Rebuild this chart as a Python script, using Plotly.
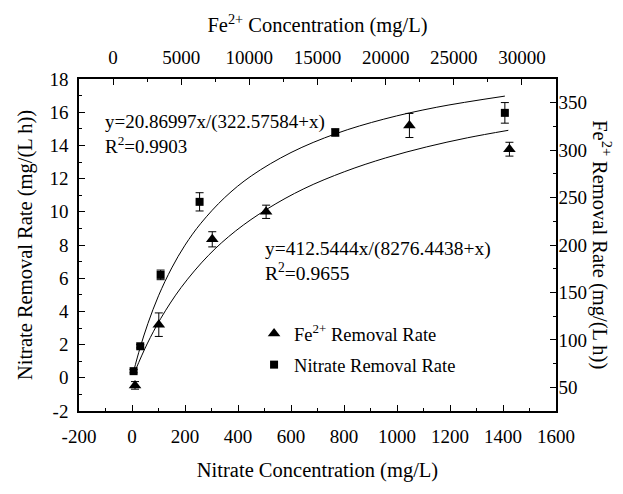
import plotly.graph_objects as go

# ---- data ----
# Nitrate removal rate (left axis) vs nitrate concentration (bottom axis)
nitrate_conc = [6, 31, 108, 255, 767, 1407]
nitrate_rate = [0.40, 1.9, 6.2, 10.6, 14.78, 15.96]
nitrate_err = [0.1, 0.1, 0.29, 0.55, 0.22, 0.62]

# Fe2+ removal rate (right axis) vs Fe2+ concentration (top axis)
fe_conc = [1611, 3356, 7278, 11230, 21745, 29083]
fe_rate = [52, 116, 206, 235, 326, 301]
fe_err = [4, 12.4, 8, 7, 12.7, 7.3]

# Fitted curves (sampled along the drawn lines)
nit_fit_x = [6, 30, 60, 100, 150, 200, 260, 350, 450, 600, 770, 950, 1150, 1407]
nit_fit_y = [0.38, 1.78, 3.27, 4.94, 6.62, 7.99, 9.31, 10.86, 12.16, 13.57, 14.71, 15.58, 16.30, 16.97]
fe_fit_x = [1611, 2500, 3500, 5000, 7000, 9000, 11300, 14000, 17000, 20000, 23000, 26000, 29000]
fe_fit_y = [67.1, 95.7, 122.6, 155.3, 189.1, 214.9, 237.9, 259.3, 277.4, 291.8, 303.4, 313.0, 320.9]

# Tick labels
bottom_ticks = [-200, 0, 200, 400, 600, 800, 1000, 1200, 1400, 1600]
bottom_labels = ["-200", "0", "200", "400", "600", "800", "1000", "1200", "1400", "1600"]
top_ticks = [0, 5000, 10000, 15000, 20000, 25000, 30000]
top_labels = ["0", "5000", "10000", "15000", "20000", "25000", "30000"]
left_ticks = [-2, 0, 2, 4, 6, 8, 10, 12, 14, 16, 18]
left_labels = ["-2", "0", "2", "4", "6", "8", "10", "12", "14", "16", "18"]
right_ticks = [50, 100, 150, 200, 250, 300, 350]
right_labels = ["50", "100", "150", "200", "250", "300", "350"]

eq1 = "y=20.86997x/(322.57584+x)<br>R<sup>2</sup>=0.9903"
eq2 = "y=412.5444x/(8276.4438+x)<br>R<sup>2</sup>=0.9655"
right_title = "Fe<sup>2+</sup> Removal Rate (mg/(L h))"

FONT = "Liberation Serif"
TICK = dict(family=FONT, size=19, color="black")
TITLE = dict(family=FONT, size=20.5, color="black")

fig = go.Figure()
fig.add_trace(go.Scatter(x=nit_fit_x, y=nit_fit_y, mode="lines", line=dict(color="black", width=1, shape="spline"),
                         showlegend=False, hoverinfo="skip"))
fig.add_trace(go.Scatter(x=fe_fit_x, y=fe_fit_y, mode="lines", line=dict(color="black", width=1, shape="spline"),
                         xaxis="x2", yaxis="y2", showlegend=False, hoverinfo="skip"))
fig.add_trace(go.Scatter(x=fe_conc, y=fe_rate, mode="markers", name="Fe<sup>2+</sup> Removal Rate",
                         legendgroup="fe",
                         marker=dict(symbol="triangle-up", size=11, color="black"),
                         error_y=dict(type="data", array=fe_err, color="black", thickness=1, width=4),
                         xaxis="x2", yaxis="y2"))
fig.add_trace(go.Scatter(x=nitrate_conc, y=nitrate_rate, mode="markers", name="Nitrate Removal Rate",
                         legendgroup="no3",
                         marker=dict(symbol="square", size=8, color="black"),
                         error_y=dict(type="data", array=nitrate_err, color="black", thickness=1, width=4)))

axis_common = dict(showline=True, linecolor="black", linewidth=1.5, ticks="inside", ticklen=6,
                   tickcolor="black", showgrid=False, zeroline=False, automargin=False,
                   tickfont=TICK)

fig.update_layout(
    width=623, height=494,
    margin=dict(l=71, r=75, t=71, b=91),
    paper_bgcolor="white", plot_bgcolor="white",
    font=dict(family=FONT, color="black"),
    xaxis=dict(range=[-200, 1600], tickmode="array", tickvals=bottom_ticks, ticktext=bottom_labels,
               minor=dict(dtick=100, ticks="inside", ticklen=3, tickcolor="black"),
               title=dict(text="Nitrate Concentration (mg/L)", font=TITLE, standoff=17),
               ticklabelstandoff=7, **axis_common),
    xaxis2=dict(range=[-2500, 32500], tickmode="array", tickvals=top_ticks, ticktext=top_labels,
                overlaying="x", side="top", anchor="y",
                minor=dict(dtick=2500, tick0=0, ticks="inside", ticklen=3, tickcolor="black"),
                title=dict(text="Fe<sup>2+</sup> Concentration (mg/L)", font=TITLE, standoff=8),
                ticklabelstandoff=6, **axis_common),
    yaxis=dict(range=[-2, 18], tickmode="array", tickvals=left_ticks, ticktext=left_labels,
               minor=dict(dtick=1, tick0=0, ticks="inside", ticklen=3, tickcolor="black"),
               title=dict(text="Nitrate Removal Rate (mg/(L h))", font=TITLE, standoff=11),
               ticklabelstandoff=5, **axis_common),
    yaxis2=dict(range=[25, 375], tickmode="array", tickvals=right_ticks, ticktext=right_labels,
                overlaying="y", side="right", anchor="x",
                minor=dict(dtick=25, tick0=0, ticks="inside", ticklen=3, tickcolor="black"),
                ticklabelstandoff=-3, **axis_common),
    legend=dict(x=0.367, y=0.289, xanchor="left", yanchor="top", bgcolor="rgba(0,0,0,0)",
                traceorder="grouped", tracegroupgap=4,
                font=dict(family=FONT, size=18.5, color="black")),
    annotations=[
        dict(text=eq1, x=0.050, y=0.909, xref="paper", yref="paper", xanchor="left", yanchor="top",
             showarrow=False, align="left", font=dict(family=FONT, size=19, color="black")),
        dict(text=eq2, x=0.386, y=0.527, xref="paper", yref="paper", xanchor="left", yanchor="top",
             showarrow=False, align="left", font=dict(family=FONT, size=19.5, color="black")),
        dict(text=right_title, x=1.096, y=0.5, xref="paper", yref="paper", xanchor="center", yanchor="middle",
             textangle=90, showarrow=False, font=TITLE),
    ],
)

fig.write_html("out.html")
